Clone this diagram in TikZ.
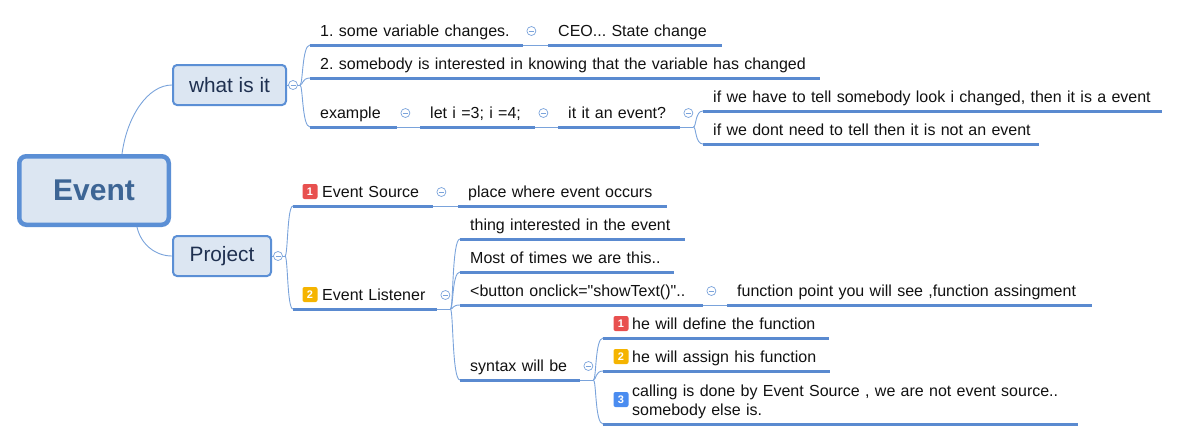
\documentclass[tikz,border=0pt]{standalone}
\usepackage{fontspec}
\setmainfont{Liberation Sans}
\usetikzlibrary{calc}

\definecolor{ulc}{HTML}{5A8AD0}
\definecolor{linkc}{HTML}{7AA3DB}
\definecolor{boxc}{HTML}{5B8FD5}
\definecolor{boxfill}{HTML}{DCE6F2}
\definecolor{boxink}{HTML}{1F3050}
\definecolor{rootink}{HTML}{3D6595}
\definecolor{ink}{HTML}{111111}
\definecolor{bred}{HTML}{E8504F}
\definecolor{borange}{HTML}{F5B400}
\definecolor{bblue}{HTML}{4A8CF0}

\frenchspacing
\begin{document}
\begin{tikzpicture}[
  x=1pt,y=1pt,
  % thin curved connectors and the thick bar under every topic
  link/.style={draw=linkc,line width=0.9pt},
  uline/.style={draw=ulc,line width=3pt},
  box/.style={draw=boxc,fill=boxfill,rounded corners=4pt,line width=2pt,
              minimum height=40pt,font=\fontsize{20.8}{24}\selectfont,text=boxink},
  root/.style={box,line width=4.5pt,rounded corners=7pt,minimum width=149.5pt,
               minimum height=68.5pt,font=\fontsize{30}{34}\selectfont\bfseries,
               text=rootink},
  topicbase/.style={anchor=south west,inner xsep=10pt,inner ysep=2.5pt,align=left,
                    font=\fontsize{16}{19}\selectfont,text=ink},
  topic/.style={topicbase,text width=#1,execute at begin node=\hbox\bgroup\strut,
                execute at end node=\strut\egroup},
  % collapse marker: small circle with a minus
  fold/.style={circle,draw=linkc,fill=white,line width=0.7pt,minimum size=9pt,
               inner sep=0pt,path picture={
                 \draw[linkc,line width=0.7pt]
                   ([xshift=-2.5pt]path picture bounding box.center) --
                   ([xshift=2.5pt]path picture bounding box.center);}},
  badge/.style={rounded corners=2pt,minimum size=15pt,inner sep=0pt,text=white,
                font=\fontsize{11}{11}\selectfont\bfseries},
]
\useasboundingbox (0,0) rectangle (1179,-440);

%--- central topic and main branches -----------------------------------------
\node[root] (event) at (94,-190.5) {Event};
\node[box,minimum width=113pt] (what) at (229.5,-85) {what is it};
\node[box,minimum width=98pt] (proj) at (222,-256) {Project};

%--- what is it ---------------------------------------------------------------
\node[topic=193pt] (t1) at (310,-45) {1. some variable changes.};
\node[topic=154pt] (t1a) at (548,-45) {CEO... State change};
\node[topic=490pt] (t2) at (310,-78) {2. somebody is interested in knowing that the variable has changed};
\node[topic=67pt] (t3) at (310,-127) {example};
\node[topic=95pt] (t3a) at (420,-127) {let i =3; i =4;};
\node[topic=102pt] (t3b) at (558,-127) {it it an event?};
\node[topic=439pt] (t3b1) at (703,-111) {if we have to tell somebody look i changed, then it is a event};
\node[topic=316pt] (t3b2) at (703,-144) {if we dont need to tell then it is not an event};

%--- Project ------------------------------------------------------------------
\node[topic=120pt] (p1) at (293,-206) {\hspace*{19pt}Event Source};
\node[topic=189pt] (p1a) at (458,-206) {place where event occurs};
\node[topic=124pt] (p2) at (293,-309) {\hspace*{19pt}Event Listener};
\node[topic=205pt] (l1) at (460,-239) {thing interested in the event};
\node[topic=194pt] (l2) at (460,-272) {Most of times we are this..};
\node[topic=223pt] (l3) at (460,-305) {<button onclick=\textquotedbl showText()\textquotedbl..};
\node[topic=345pt] (l3a) at (727,-305) {function point you will see ,function assingment};
\node[topic=100pt] (l4) at (460,-380) {syntax will be};
\node[topic=206pt] (s1) at (603,-338) {\hspace*{19pt}he will define the function};
\node[topic=207pt] (s2) at (603,-371) {\hspace*{19pt}he will assign his function};
\node[topicbase,text width=455pt] (s3) at (603,-424)
  {\strut\mbox{\hspace*{19pt}calling is done by Event Source , we are not event source..}\\
   \mbox{\hspace*{19pt}somebody else is.}\strut};

%--- connectors ---------------------------------------------------------------
\draw[link] ([xshift=28]event.north) .. controls +(5,38) and +(-24,0) .. (what.west);
\draw[link] ([xshift=43]event.south) .. controls +(4,-18) and +(-16,0) .. (proj.west);

\coordinate (wb) at ([xshift=13]what.east);
\coordinate (pb) at ([xshift=13]proj.east);
\coordinate (xb) at ([xshift=13]t3b.south east);
\coordinate (lb) at ([xshift=13]p2.south east);
\coordinate (sb) at ([xshift=13]l4.south east);

\draw[link] (what.east) -- (wb);
\draw[link] (proj.east) -- (pb);
\draw[link] (t3b.south east) -- (xb);
\draw[link] (p2.south east) -- (lb);
\draw[link] (l4.south east) -- (sb);

\foreach \c in {t1,t2,t3}
  \draw[link] (wb) .. controls +(3,0) and +(-8,0) .. (\c.south west);
\foreach \c in {t3b1,t3b2}
  \draw[link] (xb) .. controls +(3,0) and +(-8,0) .. (\c.south west);
\foreach \c in {p1,p2}
  \draw[link] (pb) .. controls +(3,0) and +(-6,0) .. (\c.south west);
\foreach \c in {l1,l2,l3,l4}
  \draw[link] (lb) .. controls +(3,0) and +(-8,0) .. (\c.south west);
\foreach \c in {s1,s2,s3}
  \draw[link] (sb) .. controls +(3,0) and +(-8,0) .. (\c.south west);

\foreach \a/\b in {t1/t1a, t3/t3a, t3a/t3b, p1/p1a, l3/l3a}
  \draw[link] (\a.south east) -- (\b.south west);

% bars under the topics
\foreach \n in {t1,t1a,t2,t3,t3a,t3b,t3b1,t3b2,p1,p1a,p2,l1,l2,l3,l3a,l4,s1,s2,s3}
  \draw[uline] (\n.south west) -- (\n.south east);

%--- collapse markers ---------------------------------------------------------
\node[fold] (f-what) at ([xshift=6]what.east) {};
\node[fold] (f-proj) at ([xshift=6]proj.east) {};
\foreach \n in {t1,t3,t3a,t3b,p1,p2,l3,l4}
  \node[fold] (f-\n) at ([shift={(8,14)}]\n.south east) {};

%--- priority badges ----------------------------------------------------------
\node[badge,fill=bred] (b-p1) at ([shift={(17,14.5)}]p1.south west) {1};
\node[badge,fill=borange] (b-p2) at ([shift={(17,14.5)}]p2.south west) {2};
\node[badge,fill=bred] (b-s1) at ([shift={(18,14.5)}]s1.south west) {1};
\node[badge,fill=borange] (b-s2) at ([shift={(18,14.5)}]s2.south west) {2};
\node[badge,fill=bblue] (b-s3) at ([shift={(18,24.5)}]s3.south west) {3};

\end{tikzpicture}
\end{document}
